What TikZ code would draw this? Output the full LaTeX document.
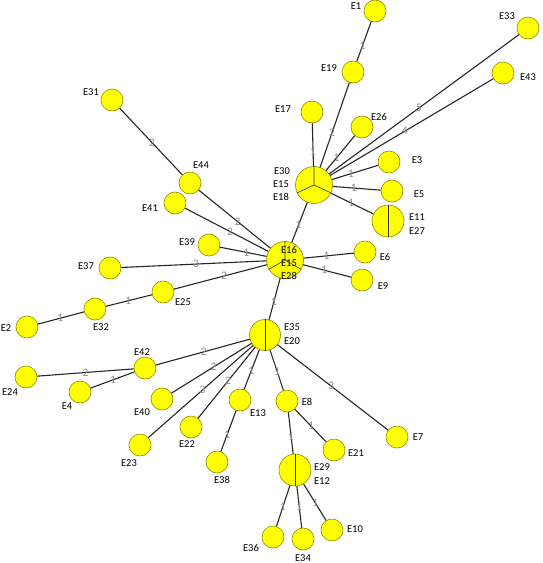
\documentclass[tikz,border=0pt]{standalone}
\usepackage{fontspec}
\setmainfont{Carlito}
\usetikzlibrary{backgrounds}
\definecolor{vfill}{RGB}{255,255,0}
\definecolor{vborder}{RGB}{140,140,0}
\definecolor{wgray}{RGB}{140,140,140}

\begin{document}
\begin{tikzpicture}[x=1pt, y=-1pt,
  vert/.style={circle, draw=vborder, fill=vfill, line width=0.6pt, minimum size=22pt, inner sep=0pt},
  bigvert/.style={vert, minimum size=37pt},
  midvert/.style={vert, minimum size=32pt},
  split/.style={draw=black!80, line width=0.6pt},
  lab/.style={font=\fontsize{10.5}{12}\selectfont, inner sep=0pt},
  link/.style={line width=1.1pt, black!85},
  wt/.style={font=\fontsize{11.5}{12}\selectfont, text=wgray, inner sep=0pt}]
  \useasboundingbox (0,0) rectangle (542,563);

  % groups (several isolates per circle)
  \node[bigvert] (v30) at (314,185) {};
  \node[bigvert] (v16) at (285,260) {};
  \node[midvert] (v11) at (388,221) {};
  \node[midvert, minimum size=31pt] (v35) at (265,335) {};
  \node[midvert] (v29) at (295,470) {};
  \draw[split] (v30.north) -- (v30.center) -- (v30.-155) (v30.center) -- (v30.-25);
  \draw[split] (v16.north) -- (v16.center) -- (v16.-150) (v16.center) -- (v16.-30);
  \draw[split] (v11.north) -- (v11.south);
  \draw[split] (v35.north) -- (v35.south);
  \draw[split] (v29.north) -- (v29.south);

  % single isolates
  \node[vert] (v1)  at (375,11)  {};
  \node[vert] (v19) at (353,72)  {};
  \node[vert] (v33) at (528,28)  {};
  \node[vert] (v43) at (503,73)  {};
  \node[vert] (v17) at (312,112) {};
  \node[vert] (v26) at (362,127) {};
  \node[vert] (v3)  at (389,162) {};
  \node[vert] (v5)  at (392,191) {};
  \node[vert] (v6)  at (365,252) {};
  \node[vert] (v9)  at (362,280) {};
  \node[vert] (v31) at (112,100) {};
  \node[vert] (v44) at (190,183) {};
  \node[vert] (v41) at (175,203) {};
  \node[vert] (v39) at (209,245) {};
  \node[vert] (v37) at (110,268) {};
  \node[vert] (v25) at (163,292) {};
  \node[vert] (v32) at (95,309)  {};
  \node[vert] (v2)  at (27,327)  {};
  \node[vert] (v42) at (145,368) {};
  \node[vert] (v24) at (26,377)  {};
  \node[vert] (v4)  at (80,392)  {};
  \node[vert] (v40) at (162,399) {};
  \node[vert] (v22) at (191,427) {};
  \node[vert] (v23) at (140,445) {};
  \node[vert] (v13) at (240,400) {};
  \node[vert] (v38) at (217,462) {};
  \node[vert] (v8)  at (287,401) {};
  \node[vert] (v21) at (334,450) {};
  \node[vert] (v7)  at (397,437) {};
  \node[vert] (v36) at (273,537) {};
  \node[vert] (v34) at (303,539) {};
  \node[vert] (v10) at (332,530) {};

  % links with number of differences
  \begin{scope}[on background layer]
    \draw[link] (v19.center) -- node[wt, pos=.43] {1} (v1.center);
    \draw[link] (v30.center) -- node[wt, pos=.46] {2} (v19.center);
    \draw[link] (v30.center) -- node[wt, pos=.45] {1} (v17.center);
    \draw[link] (v30.center) -- node[wt, pos=.47] {1} (v26.center);
    \draw[link] (v30.center) -- node[wt, pos=.49] {5} (v33.center);
    \draw[link] (v30.center) -- node[wt, pos=.48] {4} (v43.center);
    \draw[link] (v30.center) -- node[wt, pos=.49] {1} (v3.center);
    \draw[link] (v30.center) -- node[wt, pos=.51] {1} (v5.center);
    \draw[link] (v30.center) -- node[wt, pos=.50] {1} (v11.center);
    \draw[link] (v16.center) -- node[wt, pos=.47] {1} (v30.center);
    \draw[link] (v16.center) -- node[wt, pos=.52] {1} (v6.center);
    \draw[link] (v16.center) -- node[wt, pos=.51] {1} (v9.center);
    \draw[link] (v16.center) -- node[wt, pos=.50] {2} (v44.center);
    \draw[link] (v44.center) -- node[wt, pos=.49] {2} (v31.center);
    \draw[link] (v16.center) -- node[wt, pos=.50] {2} (v41.center);
    \draw[link] (v16.center) -- node[wt, pos=.51] {1} (v39.center);
    \draw[link] (v16.center) -- node[wt, pos=.51] {3} (v37.center);
    \draw[link] (v16.center) -- node[wt, pos=.50] {2} (v25.center);
    \draw[link] (v25.center) -- node[wt, pos=.51] {1} (v32.center);
    \draw[link] (v32.center) -- node[wt, pos=.51] {1} (v2.center);
    \draw[link] (v16.center) -- node[wt, pos=.56] {1} (v35.center);
    \draw[link] (v35.center) -- node[wt, pos=.51] {2} (v42.center);
    \draw[link] (v42.center) -- node[wt, pos=.50] {2} (v24.center);
    \draw[link] (v42.center) -- node[wt, pos=.49] {1} (v4.center);
    \draw[link] (v35.center) -- node[wt, pos=.50] {2} (v40.center);
    \draw[link] (v35.center) -- node[wt, pos=.50] {3} (v23.center);
    \draw[link] (v35.center) -- node[wt, pos=.50] {2} (v22.center);
    \draw[link] (v35.center) -- node[wt, pos=.55] {1} (v13.center);
    \draw[link] (v13.center) -- node[wt, pos=.56] {1} (v38.center);
    \draw[link] (v35.center) -- node[wt, pos=.55] {1} (v8.center);
    \draw[link] (v35.center) -- node[wt, pos=.50] {3} (v7.center);
    \draw[link] (v8.center) -- node[wt, pos=.51] {1} (v21.center);
    \draw[link] (v8.center) -- node[wt, pos=.52] {1} (v29.center);
    \draw[link] (v29.center) -- node[wt, pos=.55] {1} (v36.center);
    \draw[link] (v29.center) -- node[wt, pos=.54] {1} (v34.center);
    \draw[link] (v29.center) -- node[wt, pos=.55] {1} (v10.center);
  \end{scope}

  % isolate names
  \node[lab] (t30a) at (282,171) {E30};
  \node[lab] (t30b) at (281,184) {E15};
  \node[lab] (t30c) at (281,197) {E18};
  \node[lab] (t16a) at (289,250) {E16};
  \node[lab] (t16b) at (289,263) {E15};
  \node[lab] (t16c) at (289,276) {E28};
  \node[lab] (t11a) at (417,217) {E11};
  \node[lab] (t11b) at (417,231) {E27};
  \node[lab] (t35a) at (292,327) {E35};
  \node[lab] (t35b) at (292,341) {E20};
  \node[lab] (t29a) at (322,467) {E29};
  \node[lab] (t29b) at (322,481) {E12};
  \node[lab] (t1)  at (356,6)   {E1};
  \node[lab] (t19) at (329,68)  {E19};
  \node[lab] (t33) at (507,16)  {E33};
  \node[lab] (t43) at (528,77)  {E43};
  \node[lab] (t17) at (283,109) {E17};
  \node[lab] (t26) at (379,117) {E26};
  \node[lab] (t3)  at (417,160) {E3};
  \node[lab] (t5)  at (419,194) {E5};
  \node[lab] (t6)  at (385,257) {E6};
  \node[lab] (t9)  at (383,286) {E9};
  \node[lab] (t31) at (91,92)   {E31};
  \node[lab] (t44) at (201,165) {E44};
  \node[lab] (t41) at (150,208) {E41};
  \node[lab] (t39) at (187,242) {E39};
  \node[lab] (t37) at (86,266)  {E37};
  \node[lab] (t25) at (183,302) {E25};
  \node[lab] (t32) at (101,327) {E32};
  \node[lab] (t2)  at (6,328)   {E2};
  \node[lab] (t42) at (142,352) {E42};
  \node[lab] (t24) at (10,392)  {E24};
  \node[lab] (t4)  at (67,406)  {E4};
  \node[lab] (t40) at (142,412) {E40};
  \node[lab] (t22) at (187,444) {E22};
  \node[lab] (t23) at (129,463) {E23};
  \node[lab] (t13) at (258,413) {E13};
  \node[lab] (t38) at (222,480) {E38};
  \node[lab] (t8)  at (307,402) {E8};
  \node[lab] (t21) at (356,453) {E21};
  \node[lab] (t7)  at (418,437) {E7};
  \node[lab] (t36) at (251,548) {E36};
  \node[lab] (t34) at (303,558) {E34};
  \node[lab] (t10) at (355,529) {E10};
\end{tikzpicture}
\end{document}
